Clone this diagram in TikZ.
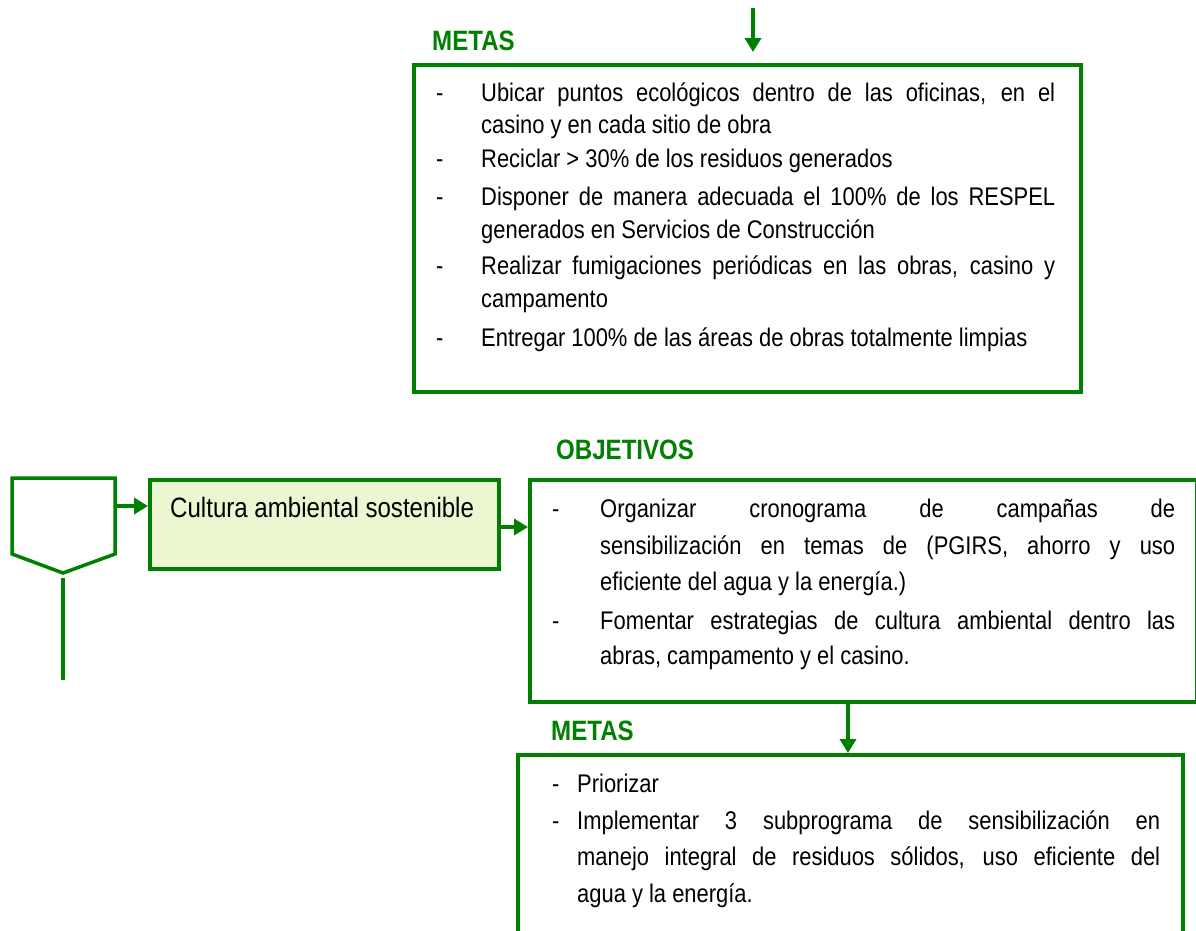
\documentclass[tikz,border=0pt]{standalone}
\usepackage{fontspec}
\setmainfont{Liberation Sans}[FakeStretch=0.86]
\usetikzlibrary{arrows.meta}
\definecolor{gr}{RGB}{0,128,0}
\definecolor{lgfill}{RGB}{236,247,210}
\newcommand\jl[2]{\makebox[#1][s]{#2}}
\tikzset{
  box/.style={draw=gr, line width=3.5pt, anchor=north west, inner sep=0pt},
  txt/.style={anchor=base west, inner sep=0pt, font=\fontsize{25.5}{30}\selectfont},
  lbl/.style={anchor=base west, inner sep=0pt, text=gr, font=\fontsize{28}{32}\selectfont\bfseries},
  arr/.style={draw=gr, line width=3.5pt, -{Triangle[length=14pt,width=16pt]}},
  ln/.style={draw=gr, line width=3.5pt}
}
\begin{document}
\begin{tikzpicture}[x=1pt,y=-1pt]
\useasboundingbox (0,0) rectangle (1196,930);
% ---- top box
\node[lbl] (m1) at (432,50) {METAS};
\node[box, minimum width=667pt, minimum height=327pt] (b1) at (412,63) {};
\coordinate (t0) at (753,8);
\coordinate (t1) at (753,52);
\draw[arr] (t0) -- (t1);
\node[txt] (d11) at (436,101) {-};
\node[txt] (l11) at (481,101) {\jl{574pt}{Ubicar puntos ecológicos dentro de las oficinas, en el}};
\node[txt] (l12) at (481,133) {casino y en cada sitio de obra};
\node[txt] (d12) at (436,167) {-};
\node[txt] (l13) at (481,167) {Reciclar > 30\% de los residuos generados};
\node[txt] (d13) at (436,205) {-};
\node[txt] (l14) at (481,205) {\jl{574pt}{Disponer de manera adecuada el 100\% de los RESPEL}};
\node[txt] (l15) at (481,238) {generados en Servicios de Construcción};
\node[txt] (d14) at (436,274) {-};
\node[txt] (l16) at (481,274) {\jl{574pt}{Realizar fumigaciones periódicas en las obras, casino y}};
\node[txt] (l17) at (481,307) {campamento};
\node[txt] (d15) at (436,346) {-};
\node[txt] (l18) at (481,346) {Entregar 100\% de las áreas de obras totalmente limpias};
% ---- left part
\coordinate (p1) at (12,478);
\coordinate (p2) at (115,478);
\coordinate (p3) at (115,554);
\coordinate (p4) at (63,573);
\coordinate (p5) at (12,554);
\draw[ln, line join=miter] (p1) -- (p2) -- (p3) -- (p4) -- (p5) -- cycle;
\coordinate (v0) at (63,578);
\coordinate (v1) at (63,680);
\draw[ln] (v0) -- (v1);
\node[box, fill=lgfill, minimum width=349pt, minimum height=89pt] (cul) at (148,478) {};
\node[txt, font=\fontsize{28}{32}\selectfont] (cult) at (170,517) {Cultura ambiental sostenible};
\coordinate (a0) at (115,506);
\draw[arr] (a0) -- (cul.west |- a0);
% ---- objectives
\node[lbl] (ob) at (556,459) {OBJETIVOS};
\node[box, minimum width=667pt, minimum height=222pt] (b2) at (528,478) {};
\coordinate (c0) at (497,527);
\draw[arr] (c0) -- (b2.west |- c0);
\node[txt] (d21) at (552,517) {-};
\node[txt] (l21) at (600,517) {\jl{575pt}{Organizar cronograma de campañas de}};
\node[txt] (l22) at (600,554) {\jl{575pt}{sensibilización en temas de (PGIRS, ahorro y uso}};
\node[txt] (l23) at (600,590) {eficiente del agua y la energía.)};
\node[txt] (d22) at (552,629) {-};
\node[txt] (l24) at (600,629) {\jl{575pt}{Fomentar estrategias de cultura ambiental dentro las}};
\node[txt] (l25) at (600,664) {abras, campamento y el casino.};
% ---- bottom metas
\node[lbl] (m2) at (551,740) {METAS};
\node[box, minimum width=665pt, minimum height=220pt] (b3) at (516,753) {};
\coordinate (e0) at (848,700);
\draw[arr] (e0) -- (b3.north -| e0);
\node[txt] (d31) at (552,792) {-};
\node[txt] (l31) at (577,792) {Priorizar};
\node[txt] (d32) at (552,829) {-};
\node[txt] (l32) at (577,829) {\jl{583pt}{Implementar 3 subprograma de sensibilización en}};
\node[txt] (l33) at (577,865) {\jl{583pt}{manejo integral de residuos sólidos, uso eficiente del}};
\node[txt] (l34) at (577,902) {agua y la energía.};
\end{tikzpicture}
\end{document}
